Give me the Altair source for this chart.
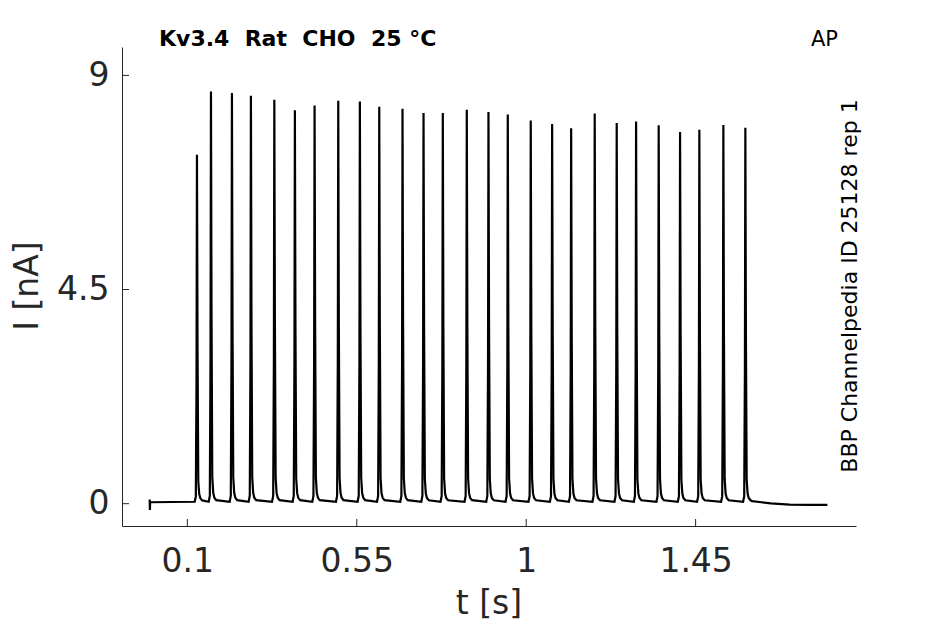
import altair as alt
import pandas as pd

# ---- data ----
spike_times = [0.1255, 0.1627, 0.2184, 0.2688, 0.3310, 0.3856, 0.4379, 0.5008, 0.5582,
               0.6097, 0.6715, 0.7273, 0.7785, 0.8422, 0.8998, 0.9511, 1.0121, 1.0689,
               1.1194, 1.1820, 1.2404, 1.2919, 1.3519, 1.4087, 1.4599, 1.5237, 1.5821]
spike_peaks = [7.29, 8.62, 8.59, 8.53, 8.45, 8.23, 8.33, 8.43, 8.41,
               8.30, 8.26, 8.17, 8.17, 8.24, 8.19, 8.14, 8.01, 7.94,
               7.85, 8.16, 7.96, 7.99, 7.91, 7.77, 7.82, 7.92, 7.86]
# shape of one spike: offset from peak (ms) and level (fraction of peak)
spike_offset_ms = [-6.0, -3.0, -1.2, 0.0, 1.5, 3.5, 6.0, 9.0, 14.0]
spike_level = [0.0, 0.015, 0.35, 1.0, 0.45, 0.06, 0.022, 0.01, 0.004]
baseline_nA = 0.04
# start transient and tail after the last spike (t in s, I in nA)
start_t = [0.0, 0.0005, 0.001]
start_i = [0.09, -0.13, 0.03]
tail_t = [1.60, 1.625, 1.65, 1.70, 1.75, 1.80]
tail_i = [0.055, 0.03, 0.005, -0.02, -0.025, -0.025]

x_ticks = [0.1, 0.55, 1.0, 1.45]
y_ticks = [0, 4.5, 9]
x_domain = [-0.0736, 1.876]
y_domain = [-0.469, 9.597]

title_text = "Kv3.4\u00a0 Rat\u00a0 CHO\u00a0 25 °C"
corner_text = "AP"
side_text = "BBP Channelpedia ID 25128 rep 1"
x_title = "t [s]"
y_title = "I [nA]"

# ---- build the trace table ----
ts, vs = list(start_t), list(start_i)
for st, pk in zip(spike_times, spike_peaks):
    for off, lv in zip(spike_offset_ms, spike_level):
        ts.append(st + off / 1000.0)
        vs.append(baseline_nA + lv * pk)
ts += tail_t
vs += tail_i
trace = pd.DataFrame({"t": ts, "I": vs, "k": range(len(ts))})

W, H = 734, 479
FONT = "DejaVu Sans"
AX = "#262626"

xs = alt.Scale(domain=x_domain, nice=False, zero=False)
ys = alt.Scale(domain=y_domain, nice=False, zero=False)
x_axis = alt.Axis(values=x_ticks, format=".3~g", title=None, labelPadding=19, labelFlush=False)
y_axis = alt.Axis(values=y_ticks, format=".3~g", title=None, labelPadding=13)

line = alt.Chart(trace).mark_line(color="black", strokeWidth=2.2).encode(
    x=alt.X("t:Q", scale=xs, axis=x_axis),
    y=alt.Y("I:Q", scale=ys, axis=y_axis),
    order="k:Q",
)

xt = alt.Chart(pd.DataFrame({"t": x_ticks})).mark_rule(color=AX, strokeWidth=1).encode(
    x=alt.X("t:Q", scale=xs, axis=x_axis), y=alt.value(H), y2=alt.value(H - 7))
yt = alt.Chart(pd.DataFrame({"I": y_ticks})).mark_rule(color=AX, strokeWidth=1).encode(
    y=alt.Y("I:Q", scale=ys, axis=y_axis), x=alt.value(0), x2=alt.value(7))


def label(txt, x, y, size, **kw):
    return alt.Chart(pd.DataFrame({"s": [txt]})).mark_text(
        font=FONT, fontSize=size, **kw).encode(
        x=alt.value(x), y=alt.value(y), text="s:N")


t1 = label(title_text, 37, -0.6, 22, fontWeight="bold", align="left",
           baseline="alphabetic", color="black")
t2 = label(corner_text, 689, -1.3, 21, align="left", baseline="alphabetic", color="black")
t3 = label(side_text, 735, 239, 22, angle=270, align="center", baseline="alphabetic",
           color="black")
t4 = label(x_title, 367, 567, 33, align="center", baseline="alphabetic", color=AX)
t5 = label(y_title, -84, 239, 33, angle=270, align="center", baseline="alphabetic", color=AX)

chart = alt.layer(line, xt, yt, t1, t2, t3, t4, t5).properties(
    width=W, height=H,
    autosize=alt.AutoSizeParams(type="none"),
    padding={"left": 114, "top": 39, "right": 75, "bottom": 96},
).configure_view(stroke=None).configure_axis(
    grid=False, ticks=False, labelFont=FONT, labelFontSize=33, labelColor=AX,
    domainColor=AX, domainWidth=1,
)

chart.save("out.html", embed_options={"renderer": "svg", "actions": False})
